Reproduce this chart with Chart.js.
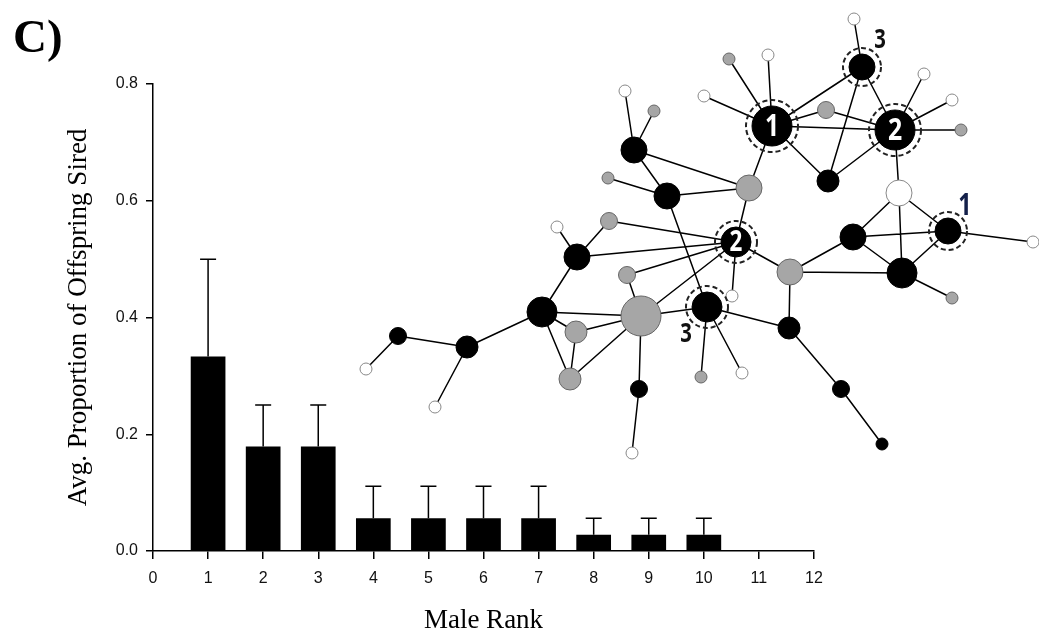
<!DOCTYPE html>
<html>
<head>
<meta charset="utf-8">
<script src="https://cdn.jsdelivr.net/npm/chart.js@4.4.1/dist/chart.umd.min.js"></script>
<style>
  html, body { margin: 0; padding: 0; background: #fff; }
  #wrap { position: relative; width: 1039px; height: 637px; }
  #wrap canvas { position: absolute; left: 0; top: 0; }
</style>
</head>
<body>
<div id="wrap">
  <canvas id="chart" width="1039" height="637"></canvas>
  <canvas id="net" width="1039" height="637"></canvas>
</div>
<script>
// bar data: male rank vs avg proportion of offspring sired
const ranks = [1, 2, 3, 4, 5, 6, 7, 8, 9, 10];
const meanSired = [0.333, 0.179, 0.179, 0.056, 0.056, 0.056, 0.056, 0.028, 0.028, 0.028];
const seSired = [0.167, 0.071, 0.071, 0.055, 0.055, 0.055, 0.055, 0.028, 0.028, 0.028];

// network inset (layout units)
const nodeX = [494, 502, 369, 408, 344, 412, 466, 535, 564, 592, 601, 468, 539, 588, 673, 493,
  542, 592, 430, 376, 389, 274, 265, 294, 307, 248, 249, 197, 217, 372, 267, 281, 347, 182,
  216, 210, 38, 107, 6, 75, 279, 272, 341, 382, 429, 481, 522];
const nodeY = [4, 52, 44, 40, 81, 111, 95, 115, 59, 85, 115, 166, 178, 216, 227, 222,
  258, 283, 257, 227, 173, 135, 76, 96, 181, 163, 206, 212, 242, 281, 260, 301, 292, 297,
  317, 364, 321, 332, 354, 392, 374, 438, 362, 358, 313, 374, 429];
const nodeType = ['w', 'b', 'g', 'w', 'w', 'b', 'g', 'b', 'w', 'w', 'g', 'b', 'w', 'b', 'w', 'b',
  'b', 'g', 'g', 'b', 'g', 'b', 'w', 'g', 'b', 'g', 'g', 'w', 'b', 'w', 'g', 'g', 'b', 'b',
  'g', 'g', 'b', 'b', 'w', 'w', 'b', 'w', 'g', 'w', 'b', 'b', 'b'];
const nodeSize = [1, 4, 1, 1, 1, 6, 2, 6, 1, 1, 1, 3, 4, 4, 1, 4,
  5, 1, 4, 5, 4, 4, 1, 1, 4, 1, 2, 1, 4, 1, 2, 6, 5, 5,
  3, 3, 2, 3, 1, 1, 2, 1, 1, 1, 3, 2, 1];
const edges = [[0,1],[1,5],[1,7],[1,11],[5,6],[6,7],[5,7],[5,11],[11,7],[2,5],[3,5],[4,5],[5,20],
  [7,8],[7,9],[7,10],[7,12],[12,15],[12,16],[12,13],[15,13],[15,16],[13,16],[13,14],[16,17],
  [15,18],[18,16],[18,19],[18,44],[19,20],[21,20],[21,22],[21,23],[21,24],[24,20],[25,24],
  [24,32],[26,19],[26,28],[27,28],[28,19],[28,33],[30,19],[31,19],[19,29],[30,31],[33,31],
  [33,34],[33,35],[34,31],[34,35],[35,31],[31,32],[31,40],[40,41],[32,42],[32,43],[32,44],
  [44,45],[45,46],[33,37],[37,36],[36,38],[37,39]];
const rankedNodes = [1, 5, 7, 13, 19, 32];
const rankText = ['3', '1', '2', '1', '2', '3'];
const rankInside = [false, true, true, false, true, false];

const radiusFor = {1: 6, 2: 8.5, 3: 11, 4: 13, 5: 15, 6: 20};
const fillFor = {b: '#000', g: '#a6a6a6', w: '#fff'};
const strokeFor = {b: '#000', g: '#666', w: '#888'};
const labelOffsets = {1: [18, -27], 13: [17, -25], 32: [-21, 27]};

const edgePoints = [];
edges.forEach(([a, b]) => {
  edgePoints.push({x: nodeX[a], y: nodeY[a]}, {x: nodeX[b], y: nodeY[b]}, {x: null, y: null});
});

const errorBars = {
  id: 'errorBars',
  afterDatasetsDraw(chart) {
    const ctx = chart.ctx;
    const xs = chart.scales.x, ys = chart.scales.y;
    ctx.save();
    ctx.strokeStyle = '#000';
    ctx.lineWidth = 1.5;
    ranks.forEach((r, i) => {
      const px = xs.getPixelForValue(r);
      const y0 = ys.getPixelForValue(meanSired[i]);
      const y1 = ys.getPixelForValue(meanSired[i] + seSired[i]);
      ctx.beginPath();
      ctx.moveTo(px, y0);
      ctx.lineTo(px, y1);
      ctx.moveTo(px - 8, y1);
      ctx.lineTo(px + 8, y1);
      ctx.stroke();
    });
    // panel letter
    ctx.fillStyle = '#000';
    ctx.font = 'bold 47px "Liberation Serif", "Times New Roman", serif';
    ctx.textAlign = 'left';
    ctx.textBaseline = 'alphabetic';
    ctx.fillText('C)', 13, 52);
    ctx.restore();
  }
};

const rankRings = {
  id: 'rankRings',
  afterDatasetsDraw(chart) {
    const ctx = chart.ctx;
    const meta = chart.getDatasetMeta(1);
    ctx.save();
    rankedNodes.forEach((n, i) => {
      const pt = meta.data[n];
      const r = radiusFor[nodeSize[n]];
      ctx.setLineDash([5, 3]);
      ctx.lineWidth = 2;
      ctx.strokeStyle = '#222';
      ctx.beginPath();
      ctx.arc(pt.x, pt.y, r + 6, 0, Math.PI * 2);
      ctx.stroke();
      ctx.setLineDash([]);

      ctx.save();
      ctx.textAlign = 'center';
      ctx.textBaseline = 'middle';
      if (rankInside[i]) {
        ctx.translate(pt.x, pt.y + 1);
        ctx.scale(0.8, 1);
        ctx.fillStyle = '#fff';
        ctx.font = 'bold ' + (r > 16 ? 31 : 28) + 'px "Open Sans", sans-serif';
        ctx.fillText(rankText[i], 0, 0);
      } else {
        const off = labelOffsets[n];
        ctx.translate(pt.x + off[0], pt.y + off[1]);
        ctx.scale(0.75, 1);
        ctx.fillStyle = rankText[i] === '1' ? '#14204a' : '#111';
        ctx.font = 'bold ' + (rankText[i] === '1' ? 31 : 27) + 'px "Open Sans", sans-serif';
        ctx.fillText(rankText[i], 0, 0);
      }
      ctx.restore();
    });
    ctx.restore();
  }
};

new Chart(document.getElementById('chart'), {
  type: 'bar',
  data: {
    datasets: [{
      data: ranks.map((r, i) => ({x: r, y: meanSired[i]})),
      backgroundColor: '#000',
      borderWidth: 0,
      grouped: false,
      barPercentage: 0.63,
      categoryPercentage: 1
    }]
  },
  options: {
    responsive: false,
    animation: false,
    events: [],
    layout: {padding: {left: 55, top: 84, right: 225, bottom: 0}},
    plugins: {legend: {display: false}, tooltip: {enabled: false}},
    scales: {
      x: {
        type: 'linear',
        min: 0,
        max: 12,
        offset: false,
        afterFit: axis => { axis.height = 86; },
        ticks: {stepSize: 1, color: '#111', padding: 10, font: {family: '"Liberation Sans", Arial, sans-serif', size: 16}},
        grid: {drawOnChartArea: false, drawTicks: true, tickLength: 8, color: '#000', lineWidth: 1.5, offset: false},
        border: {display: true, color: '#000', width: 1.5},
        title: {display: true, text: 'Male Rank', color: '#000', padding: {top: 0, bottom: 0},
          font: {family: '"Liberation Serif", "Times New Roman", serif', size: 27}}
      },
      y: {
        min: 0,
        max: 0.8,
        afterFit: axis => { axis.width = 98; },
        ticks: {stepSize: 0.2, color: '#111', padding: 8, callback: v => v.toFixed(1),
          font: {family: '"Liberation Sans", Arial, sans-serif', size: 16}},
        grid: {drawOnChartArea: false, drawTicks: true, tickLength: 7, color: '#000', lineWidth: 1.5},
        border: {display: true, color: '#000', width: 1.5},
        title: {display: true, text: 'Avg. Proportion of Offspring Sired', color: '#000', padding: {top: 8, bottom: 0},
          font: {family: '"Liberation Serif", "Times New Roman", serif', size: 27}}
      }
    }
  },
  plugins: [errorBars]
});

// network inset drawn on a transparent overlay
new Chart(document.getElementById('net'), {
  type: 'scatter',
  data: {
    datasets: [
      {
        data: edgePoints,
        showLine: true,
        spanGaps: false,
        pointRadius: 0,
        borderColor: '#000',
        borderWidth: 1.5,
        order: 2
      },
      {
        data: nodeX.map((x, i) => ({x: x, y: nodeY[i]})),
        pointRadius: ctx => radiusFor[nodeSize[ctx.dataIndex]],
        pointBackgroundColor: ctx => fillFor[nodeType[ctx.dataIndex]],
        pointBorderColor: ctx => strokeFor[nodeType[ctx.dataIndex]],
        pointBorderWidth: 1,
        order: 1
      }
    ]
  },
  options: {
    responsive: false,
    animation: false,
    events: [],
    layout: {padding: 0, autoPadding: false},
    plugins: {legend: {display: false}, tooltip: {enabled: false}},
    scales: {
      x: {display: false, min: -360, max: 679},
      y: {display: false, min: -15, max: 622, reverse: true}
    }
  },
  plugins: [rankRings]
});
</script>
</body>
</html>
